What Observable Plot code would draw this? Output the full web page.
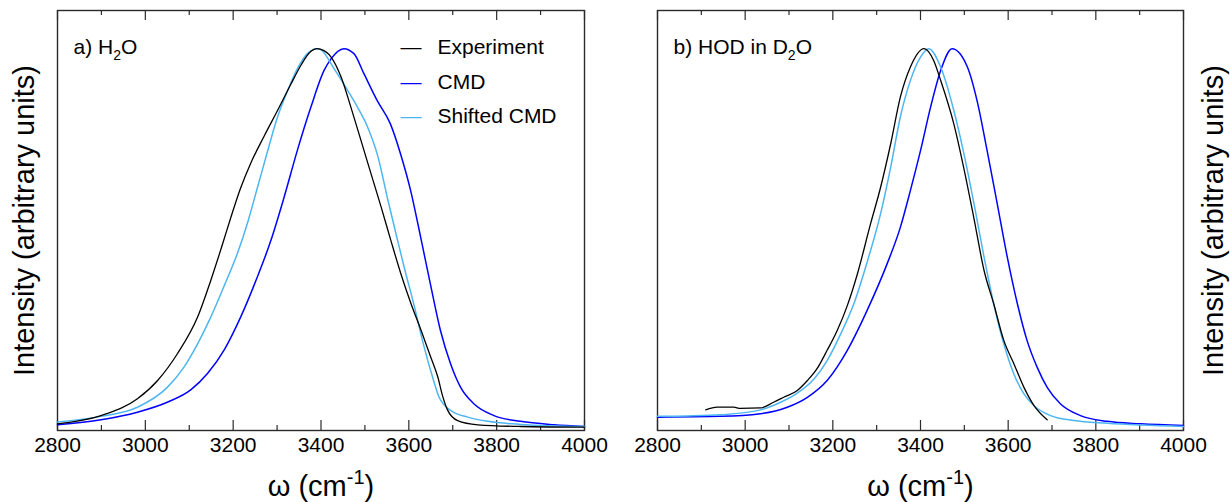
<!DOCTYPE html>
<html>
<head>
<meta charset="utf-8">
<script src="https://cdn.jsdelivr.net/npm/d3@7"></script>
<script src="https://cdn.jsdelivr.net/npm/@observablehq/plot@0.6"></script>
<style>
  html, body { margin: 0; padding: 0; background: #fff; }
  #row { display: flex; width: 1230px; height: 502px; }
  #row svg { display: block; }
</style>
</head>
<body>
<div id="row"></div>
<script>
// ---- data (wavenumber cm^-1, normalized intensity) ----
const majorTicks = [2800, 3000, 3200, 3400, 3600, 3800, 4000];
const minorTicks = [2900, 3100, 3300, 3500, 3700, 3900];
const seriesNames = ["Experiment", "CMD", "Shifted CMD"];
const panelTitles = ["a) H2O", "b) HOD in D2O"];

const h2oExperiment = [[2800,0.0175],[2899,0.039],[2982,0.083],[3028,0.131],[3073,0.201],[3119,0.297],[3149,0.393],[3176,0.489],[3195,0.559],[3217,0.635],[3240,0.700],[3271,0.772],[3301,0.838],[3331,0.906],[3354,0.956],[3377,0.993],[3390,1.0],[3400,0.998],[3423,0.978],[3446,0.925],[3468,0.847],[3491,0.760],[3514,0.672],[3537,0.585],[3559,0.498],[3582,0.410],[3605,0.332],[3628,0.262],[3650,0.192],[3666,0.140],[3677,0.090],[3688,0.054],[3711,0.026],[3757,0.015],[3855,0.0105],[4000,0.0087]];
const h2oCMD = [[2800,0.0148],[2899,0.028],[2982,0.048],[3050,0.074],[3104,0.107],[3142,0.150],[3180,0.212],[3217,0.297],[3255,0.402],[3286,0.498],[3316,0.611],[3346,0.733],[3377,0.847],[3407,0.943],[3422,0.972],[3452,1.0],[3475,0.987],[3498,0.934],[3528,0.864],[3558,0.803],[3581,0.725],[3604,0.629],[3627,0.506],[3649,0.384],[3672,0.262],[3695,0.175],[3718,0.113],[3748,0.070],[3794,0.039],[3854,0.024],[3930,0.015],[4000,0.0105]];
const h2oShifted = [[2800,0.022],[2899,0.037],[2982,0.061],[3050,0.113],[3088,0.166],[3119,0.227],[3149,0.297],[3180,0.380],[3210,0.465],[3233,0.545],[3255,0.635],[3278,0.730],[3301,0.821],[3324,0.890],[3346,0.947],[3369,0.987],[3392,1.0],[3400,0.997],[3430,0.947],[3461,0.890],[3483,0.847],[3506,0.795],[3529,0.720],[3552,0.605],[3575,0.495],[3590,0.425],[3613,0.323],[3631,0.236],[3654,0.140],[3669,0.087],[3696,0.052],[3734,0.035],[3780,0.024],[3855,0.016],[4000,0.0105]];

const hodExperiment = [[2910,0.054],[2936,0.061],[2974,0.061],[2989,0.058],[3035,0.059],[3065,0.074],[3088,0.087],[3119,0.105],[3142,0.131],[3164,0.162],[3187,0.210],[3210,0.262],[3233,0.327],[3256,0.410],[3286,0.541],[3309,0.637],[3332,0.751],[3354,0.873],[3377,0.952],[3408,1.0],[3430,0.969],[3446,0.917],[3476,0.803],[3499,0.686],[3522,0.555],[3545,0.419],[3567,0.332],[3590,0.236],[3613,0.175],[3636,0.113],[3659,0.065],[3689,0.028]];
const hodCMD = [[2800,0.035],[2944,0.037],[3035,0.044],[3096,0.061],[3142,0.087],[3187,0.131],[3233,0.210],[3278,0.314],[3324,0.437],[3354,0.532],[3377,0.629],[3400,0.733],[3423,0.847],[3446,0.943],[3472,1.0],[3507,0.952],[3529,0.864],[3552,0.733],[3575,0.594],[3598,0.454],[3621,0.332],[3643,0.236],[3666,0.166],[3689,0.113],[3719,0.070],[3765,0.039],[3826,0.024],[3902,0.0175],[4000,0.013]];
const hodShifted = [[2800,0.037],[2868,0.038],[2944,0.041],[3035,0.054],[3081,0.074],[3119,0.098],[3157,0.135],[3187,0.183],[3218,0.253],[3248,0.332],[3278,0.440],[3309,0.568],[3332,0.690],[3354,0.821],[3377,0.917],[3400,0.978],[3419,1.0],[3446,0.952],[3476,0.838],[3499,0.725],[3522,0.594],[3545,0.454],[3567,0.332],[3590,0.227],[3613,0.148],[3636,0.096],[3659,0.065],[3697,0.039],[3750,0.026],[3826,0.019],[4000,0.0105]];

// ---- styles ----
const colors = {"Experiment": "#000000", "CMD": "#0000ff", "Shifted CMD": "#4db6f2"};
const FONT = "'Liberation Sans', Arial, Helvetica, sans-serif";
const frameColor = "#2a2a2a";
const H = 502, MT = 10, MB = 72;
const frameH = H - MT - MB;

function curveMarks(exp, cmd, shifted) {
  return [
    Plot.line(cmd, {x: d => d[0], y: d => d[1], stroke: colors["CMD"], strokeWidth: 1.5, curve: "monotone-x"}),
    Plot.line(shifted, {x: d => d[0], y: d => d[1], stroke: colors["Shifted CMD"], strokeWidth: 1.5, curve: "monotone-x"}),
    Plot.line(exp, {x: d => d[0], y: d => d[1], stroke: colors["Experiment"], strokeWidth: 1.3, curve: "monotone-x"})
  ];
}

function axisMarks() {
  return [
    Plot.ruleX(majorTicks, {insetTop: frameH - 10, stroke: frameColor, strokeWidth: 1.2}),
    Plot.ruleX(minorTicks, {insetTop: frameH - 5, stroke: frameColor, strokeWidth: 1.2}),
    Plot.ruleX(majorTicks, {insetBottom: frameH - 10, stroke: frameColor, strokeWidth: 1.2}),
    Plot.ruleX(minorTicks, {insetBottom: frameH - 5, stroke: frameColor, strokeWidth: 1.2}),
    Plot.axisX(majorTicks, {anchor: "bottom", tickSize: 0, tickPadding: 7, fontSize: 21, tickFormat: d => String(d), label: null, fill: "#000"}),
    Plot.frame({stroke: frameColor, strokeWidth: 1.4}),
    Plot.text(["ω (cm-1)"], {frameAnchor: "bottom", dy: 65, lineAnchor: "bottom", textAnchor: "middle", fontSize: 29, fill: "#000"})
  ];
}

const common = {
  width: 615, height: H, marginTop: MT, marginBottom: MB,
  x: {domain: [2800, 4000]},
  y: {domain: [0, 1.1], axis: null},
  style: {fontFamily: FONT, background: "#fff", color: "#000", overflow: "visible"}
};

const left = Plot.plot({
  ...common, marginLeft: 57, marginRight: 31,
  marks: [
    ...axisMarks(),
    ...curveMarks(h2oExperiment, h2oCMD, h2oShifted),
    Plot.text([panelTitles[0]], {frameAnchor: "top-left", dx: 16, dy: 43, lineAnchor: "bottom", textAnchor: "start", fontSize: 21, fill: "#000"}),
    Plot.text(["Intensity (arbitrary units)"], {frameAnchor: "left", rotate: -90, dx: -33, lineAnchor: "middle", textAnchor: "middle", fontSize: 29, fill: "#000"}),
    ...seriesNames.map((name, i) => Plot.text([name], {frameAnchor: "top-left", dx: 380, dy: [43, 78, 112][i], lineAnchor: "bottom", textAnchor: "start", fontSize: 21, fill: "#000"})),
    ...seriesNames.map((name, i) => Plot.text(["\u2014"], {frameAnchor: "top-left", dx: 343, dy: [43, 78, 112][i], lineAnchor: "bottom", textAnchor: "start", fontSize: 21, fill: colors[name]}))
  ]
});

const right = Plot.plot({
  ...common, marginLeft: 42, marginRight: 47,
  marks: [
    ...axisMarks(),
    ...curveMarks(hodExperiment, hodCMD, hodShifted),
    Plot.text([panelTitles[1]], {frameAnchor: "top-left", dx: 16, dy: 43, lineAnchor: "bottom", textAnchor: "start", fontSize: 21, fill: "#000"}),
    Plot.text(["Intensity (arbitrary units)"], {frameAnchor: "right", rotate: -90, dx: 30, lineAnchor: "middle", textAnchor: "middle", fontSize: 29, fill: "#000"})
  ]
});

// rich text: subscripts / superscripts
const NS = "http://www.w3.org/2000/svg";
function richify(svg, plain, parts) {
  svg.querySelectorAll("text").forEach(t => {
    if (t.textContent === plain) {
      t.textContent = "";
      for (const p of parts) {
        const ts = document.createElementNS(NS, "tspan");
        ts.textContent = p.t;
        if (p.dy) ts.setAttribute("dy", p.dy);
        if (p.size) ts.setAttribute("font-size", p.size);
        t.appendChild(ts);
      }
    }
  });
}
for (const svg of [left, right]) {
  richify(svg, "ω (cm-1)", [{t: "ω (cm"}, {t: "-1", dy: "-12", size: "20"}, {t: ")", dy: "12"}]);
  richify(svg, "a) H2O", [{t: "a) H"}, {t: "2", dy: "6", size: "14"}, {t: "O", dy: "-6"}]);
  richify(svg, "b) HOD in D2O", [{t: "b) HOD in D"}, {t: "2", dy: "6", size: "14"}, {t: "O", dy: "-6"}]);
}

document.getElementById("row").append(left, right);
</script>
</body>
</html>
